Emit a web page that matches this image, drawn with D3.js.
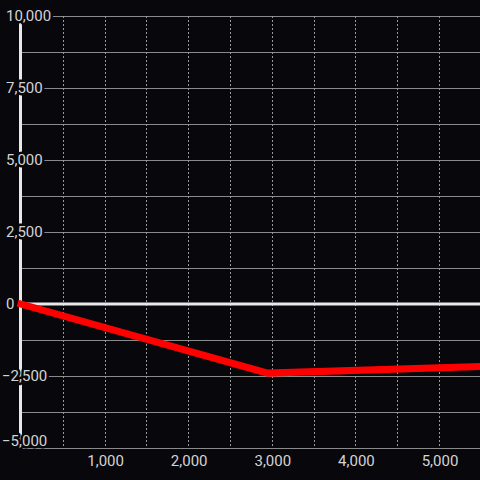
<!DOCTYPE html>
<html>
<head>
<meta charset="utf-8">
<script src="https://cdn.jsdelivr.net/npm/d3@7"></script>
<style>
html,body{margin:0;padding:0;background:#08070b;}
svg{display:block;}
</style>
</head>
<body>
<script>
// series (x, y)
var xs = [0, 2950, 5500];
var ys = [0, -2400, -2170];

// axis ticks
var yLabels = [10000, 7500, 5000, 2500, 0, -2500, -5000];
var yGrid = [10000, 8750, 7500, 6250, 5000, 3750, 2500, 1250, 0, -1250, -2500, -3750, -5000];
var xLabels = [1000, 2000, 3000, 4000, 5000];
var xGrid = [500, 1000, 1500, 2000, 2500, 3000, 3500, 4000, 4500, 5000];

const w = 480, h = 480;
const bg = "#08070b";

const x = d3.scaleLinear().domain([0, 5490]).range([21, 480]);
const y = d3.scaleLinear().domain([-5000, 10000]).range([448, 16]);
const fmt = d3.format(",");

const svg = d3.select("body").append("svg")
  .attr("width", w).attr("height", h)
  .style("font-family", "Roboto, 'Liberation Sans', sans-serif")
  .style("font-size", "15px");

svg.append("rect").attr("width", w).attr("height", h).attr("fill", bg);

// horizontal grid
svg.selectAll(".hg").data(yGrid).enter().append("line")
  .attr("x1", x(0)).attr("x2", w)
  .attr("y1", d => Math.round(y(d)) + 0.5).attr("y2", d => Math.round(y(d)) + 0.5)
  .attr("stroke", "#8a8a8a").attr("stroke-width", 1);

// vertical dashed grid
svg.selectAll(".vg").data(xGrid).enter().append("line")
  .attr("x1", d => Math.round(x(d)) + 0.5).attr("x2", d => Math.round(x(d)) + 0.5)
  .attr("y1", y(10000)).attr("y2", y(-5000))
  .attr("stroke", "#9a9a9a").attr("stroke-width", 1)
  .attr("stroke-dasharray", "2,2");

// zero line + left axis
svg.append("line")
  .attr("x1", x(0)).attr("x2", w).attr("y1", y(0)).attr("y2", y(0))
  .attr("stroke", "#e8e8e8").attr("stroke-width", 3);
svg.append("line")
  .attr("x1", x(0) - 0.5).attr("x2", x(0) - 0.5).attr("y1", y(10000)).attr("y2", y(-5000))
  .attr("stroke", "#e8e8e8").attr("stroke-width", 3);

// the series
var pts = xs.map((d, i) => [d, ys[i]]);
svg.append("path")
  .datum(pts)
  .attr("d", d3.line().x(d => x(d[0])).y(d => y(d[1])))
  .attr("fill", "none")
  .attr("stroke", "#ff0000")
  .attr("stroke-width", 7)
  .attr("stroke-linecap", "square");

// y labels, dark halo hides what is behind them
svg.selectAll(".yl").data(yLabels).enter().append("text")
  .attr("x", d => d < 0 ? 2 : 6)
  .attr("y", d => Math.min(y(d), 441))
  .attr("dy", "0.35em")
  .attr("fill", "#d4d4d4")
  .attr("stroke", bg)
  .attr("stroke-width", 5)
  .attr("stroke-linejoin", "round")
  .attr("paint-order", "stroke")
  .text(d => fmt(d));

// x labels
svg.selectAll(".xl").data(xLabels).enter().append("text")
  .attr("x", d => x(d) + 1)
  .attr("y", 466)
  .attr("text-anchor", "middle")
  .attr("fill", "#d4d4d4")
  .text(d => fmt(d));
</script>
</body>
</html>
